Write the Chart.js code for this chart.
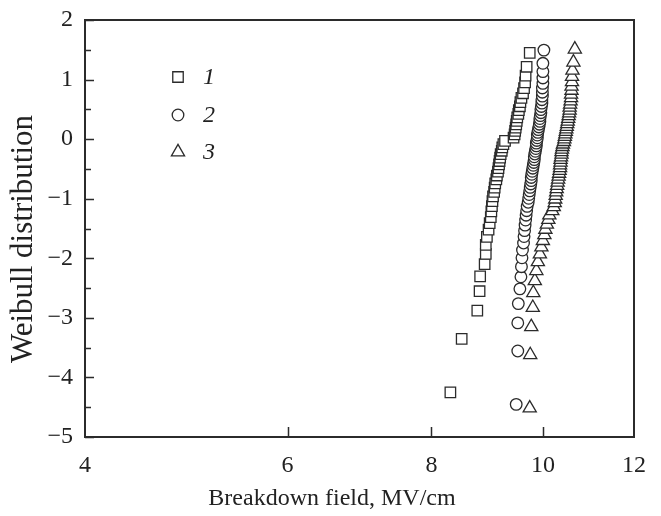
<!DOCTYPE html>
<html><head><meta charset="utf-8">
<script src="https://cdn.jsdelivr.net/npm/chart.js@4.4.1/dist/chart.umd.min.js"></script>
<style>html,body{margin:0;padding:0;background:#fff;}#wrap{width:661px;height:516px;}</style>
</head><body><div id="wrap"><canvas id="c" width="661" height="516"></canvas></div>
<script>
const seriesLabels = ['1', '2', '3'];
const xTickValues = [4, 6, 8, 10, 12];
const xTitle = 'Breakdown field, MV/cm';
const yTitle = 'Weibull distribution';

const field1 = [8.31,8.50,8.77,8.81,8.82,8.90,8.92,8.92,8.94,8.97,8.99,9.01,9.02,9.03,9.04,9.05,9.07,9.08,9.09,9.11,9.12,9.14,9.15,9.16,9.17,9.18,9.19,9.21,9.22,9.24,9.27,9.43,9.45,9.46,9.47,9.48,9.49,9.50,9.52,9.53,9.55,9.56,9.58,9.61,9.63,9.65,9.66,9.68,9.74];
const weibull1 = [-4.250,-3.352,-2.879,-2.553,-2.303,-2.099,-1.926,-1.775,-1.641,-1.520,-1.410,-1.308,-1.214,-1.125,-1.041,-0.961,-0.885,-0.813,-0.743,-0.676,-0.611,-0.547,-0.486,-0.425,-0.367,-0.309,-0.252,-0.195,-0.139,-0.084,-0.029,0.026,0.081,0.137,0.192,0.249,0.306,0.365,0.425,0.487,0.552,0.620,0.692,0.770,0.855,0.952,1.067,1.215,1.448];

const field2 = [9.48,9.51,9.51,9.52,9.55,9.57,9.58,9.59,9.60,9.62,9.63,9.64,9.65,9.66,9.67,9.68,9.69,9.71,9.72,9.73,9.74,9.75,9.76,9.77,9.77,9.78,9.79,9.80,9.81,9.82,9.83,9.83,9.84,9.85,9.86,9.87,9.87,9.88,9.89,9.89,9.90,9.91,9.92,9.93,9.94,9.94,9.95,9.96,9.96,9.97,9.98,9.98,9.99,9.99,9.99,10.00,10.00,10.00,10.00,10.02];
const weibull2 = [-4.452,-3.556,-3.085,-2.761,-2.513,-2.311,-2.141,-1.992,-1.861,-1.743,-1.635,-1.536,-1.444,-1.358,-1.277,-1.201,-1.128,-1.059,-0.993,-0.930,-0.868,-0.809,-0.752,-0.697,-0.643,-0.590,-0.539,-0.488,-0.439,-0.391,-0.343,-0.296,-0.249,-0.203,-0.157,-0.112,-0.067,-0.022,0.023,0.069,0.114,0.159,0.205,0.251,0.298,0.346,0.394,0.444,0.496,0.549,0.604,0.662,0.723,0.788,0.859,0.937,1.027,1.134,1.273,1.495];

const field3 = [9.74,9.75,9.77,9.80,9.81,9.84,9.87,9.90,9.94,9.97,10.00,10.03,10.05,10.08,10.11,10.13,10.19,10.22,10.24,10.25,10.26,10.27,10.28,10.29,10.30,10.31,10.32,10.33,10.34,10.35,10.35,10.36,10.36,10.37,10.38,10.38,10.39,10.40,10.41,10.43,10.44,10.45,10.46,10.47,10.48,10.49,10.50,10.51,10.52,10.53,10.54,10.55,10.55,10.56,10.57,10.58,10.58,10.59,10.59,10.60,10.60,10.61,10.63,10.66];
const weibull3 = [-4.516,-3.621,-3.150,-2.827,-2.580,-2.379,-2.209,-2.061,-1.930,-1.813,-1.705,-1.607,-1.516,-1.431,-1.351,-1.275,-1.203,-1.135,-1.070,-1.008,-0.947,-0.889,-0.833,-0.779,-0.726,-0.675,-0.625,-0.576,-0.528,-0.481,-0.435,-0.389,-0.344,-0.300,-0.256,-0.213,-0.170,-0.127,-0.085,-0.043,0.000,0.042,0.084,0.127,0.169,0.212,0.256,0.300,0.345,0.390,0.437,0.485,0.534,0.585,0.638,0.694,0.753,0.817,0.886,0.962,1.050,1.154,1.291,1.509];

const INK = '#2b2b2b';
const SERIF = "'Liberation Serif','Times New Roman',serif";
const styles = [
  {pointStyle: 'rect', radius: 7.4},
  {pointStyle: 'circle', radius: 5.8},
  {pointStyle: 'triangle', radius: 7.6}
];
const fields = [field1, field2, field3];
const weibulls = [weibull1, weibull2, weibull3];

const datasets = seriesLabels.map((lab, k) => ({
  label: lab,
  data: fields[k].map((f, i) => ({x: f, y: weibulls[k][i]})),
  showLine: false,
  pointStyle: styles[k].pointStyle,
  pointRadius: styles[k].radius,
  pointHoverRadius: styles[k].radius,
  pointBackgroundColor: '#ffffff',
  pointBorderColor: INK,
  pointBorderWidth: 1.3
}));

function drawMarker(ctx, style, x, y, r) {
  ctx.beginPath();
  if (style === 'rect') {
    const s = Math.SQRT1_2 * r;
    ctx.rect(x - s, y - s, 2 * s, 2 * s);
  } else if (style === 'circle') {
    ctx.arc(x, y, r, 0, Math.PI * 2);
  } else {
    for (let j = 0; j < 3; j++) {
      const a = j * 2 * Math.PI / 3;
      const px = x + Math.sin(a) * r, py = y - Math.cos(a) * r;
      if (j === 0) ctx.moveTo(px, py); else ctx.lineTo(px, py);
    }
    ctx.closePath();
  }
  ctx.fill(); ctx.stroke();
}

const framePlugin = {
  id: 'frameTicks',
  afterDraw(chart) {
    const {ctx, chartArea: a, scales: {x, y}} = chart;
    ctx.save();
    ctx.strokeStyle = INK;
    ctx.lineWidth = 2;
    ctx.strokeRect(a.left, a.top, a.right - a.left, a.bottom - a.top);
    ctx.lineWidth = 1.5;
    ctx.beginPath();
    for (let v = y.min; v <= y.max + 1e-9; v += 0.5) {
      const py = Math.round(y.getPixelForValue(v)) + 0.5;
      const len = Math.abs(v - Math.round(v)) < 1e-6 ? 9 : 6;
      ctx.moveTo(a.left, py); ctx.lineTo(a.left + len, py);
    }
    xTickValues.forEach(v => {
      if (v <= x.min || v >= x.max) return;
      const px = Math.round(x.getPixelForValue(v)) + 0.5;
      ctx.moveTo(px, a.bottom); ctx.lineTo(px, a.bottom - 10);
    });
    ctx.stroke();
    // axis titles
    ctx.fillStyle = '#222';
    ctx.textAlign = 'center';
    ctx.textBaseline = 'middle';
    ctx.font = '24px ' + SERIF;
    ctx.fillText(xTitle, 332, 499);
    ctx.save();
    ctx.translate(24, 239);
    ctx.rotate(-Math.PI / 2);
    ctx.font = '31px ' + SERIF;
    ctx.fillText(yTitle, 0, 0);
    ctx.restore();
    // legend
    const lx = 178, ly = [77, 115, 152];
    ctx.lineWidth = 1.3;
    ctx.strokeStyle = INK;
    chart.data.datasets.forEach((ds, k) => {
      ctx.fillStyle = '#fff';
      drawMarker(ctx, ds.pointStyle, lx, ly[k], styles[k].radius);
      ctx.fillStyle = '#222';
      ctx.font = 'italic 24px ' + SERIF;
      ctx.textBaseline = 'middle';
      ctx.textAlign = 'left';
      ctx.fillText(ds.label, 203, ly[k] + 1);
    });
    ctx.restore();
  }
};

new Chart(document.getElementById('c'), {
  type: 'scatter',
  data: {datasets},
  plugins: [framePlugin],
  options: {
    responsive: false,
    animation: false,
    devicePixelRatio: 1,
    layout: {padding: {left: 0, right: 27, top: 20, bottom: 0}},
    plugins: {legend: {display: false}, tooltip: {enabled: false}},
    scales: {
      x: {
        type: 'logarithmic', min: 4, max: 12,
        afterBuildTicks: s => { s.ticks = xTickValues.map(v => ({value: v, major: false})); },
        afterFit: s => { s.height = 79; s.paddingLeft = 0; s.paddingRight = 0; },
        grid: {display: false, drawTicks: false},
        border: {display: false},
        ticks: {
          callback: v => String(v), autoSkip: false, maxRotation: 0,
          font: {family: SERIF, size: 24}, color: '#222', padding: 14
        },
        title: {display: false, text: xTitle}
      },
      y: {
        type: 'linear', min: -5, max: 2,
        afterFit: s => { s.width = 85; s.paddingTop = 0; s.paddingBottom = 0; },
        grid: {display: false, drawTicks: false},
        border: {display: false},
        ticks: {
          stepSize: 1,
          callback: v => (v < 0 ? '\u2212' + Math.abs(v) : String(v)),
          font: {family: SERIF, size: 24}, color: '#222', padding: 12
        },
        title: {display: false, text: yTitle}
      }
    }
  }
});
</script></body></html>
